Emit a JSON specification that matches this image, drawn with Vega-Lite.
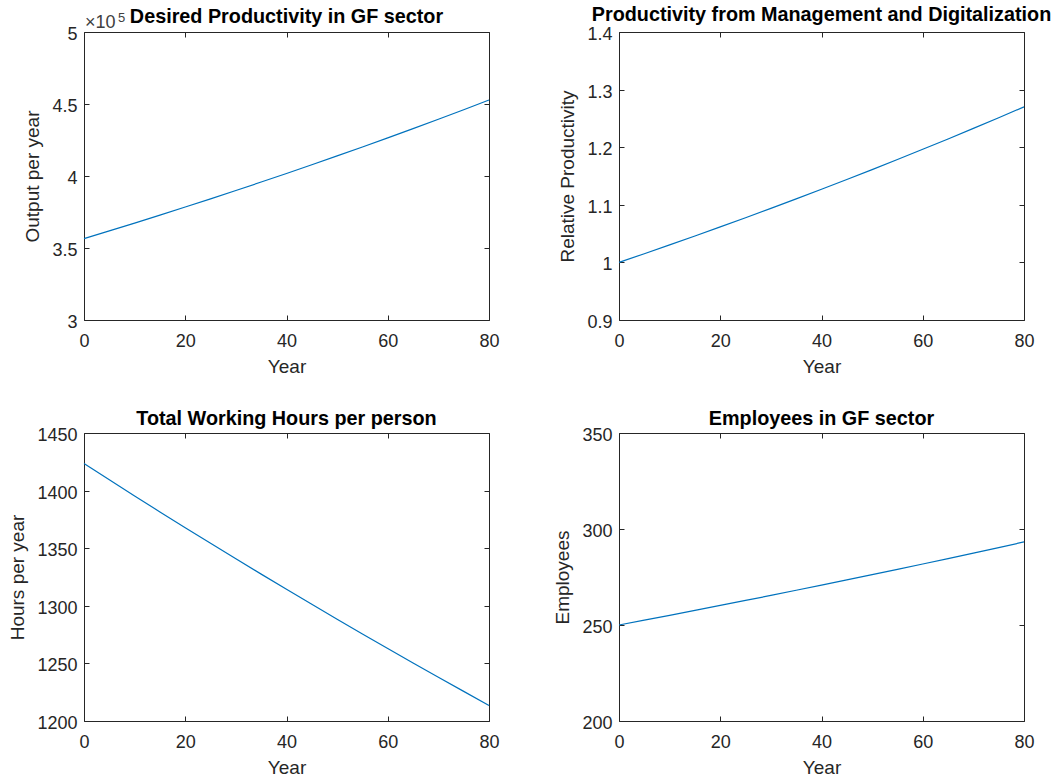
{
  "$schema": "https://vega.github.io/schema/vega-lite/v6.json",
  "background": "white",
  "padding": {"left": 8, "top": 4, "right": 5, "bottom": 5},
  "data": {"values": [
    {"year": 0, "output": 356500, "relprod": 1.0, "hours": 1423.5, "employees": 250.0},
    {"year": 5, "output": 361865, "relprod": 1.01505, "hours": 1409.4, "employees": 252.51},
    {"year": 10, "output": 367313, "relprod": 1.03033, "hours": 1395.4, "employees": 255.04},
    {"year": 15, "output": 372842, "relprod": 1.04584, "hours": 1381.5, "employees": 257.59},
    {"year": 20, "output": 378453, "relprod": 1.06158, "hours": 1367.8, "employees": 260.18},
    {"year": 25, "output": 384150, "relprod": 1.07756, "hours": 1354.3, "employees": 262.78},
    {"year": 30, "output": 389933, "relprod": 1.09378, "hours": 1340.8, "employees": 265.42},
    {"year": 35, "output": 395801, "relprod": 1.11024, "hours": 1327.5, "employees": 268.08},
    {"year": 40, "output": 401758, "relprod": 1.12695, "hours": 1314.3, "employees": 270.77},
    {"year": 45, "output": 407804, "relprod": 1.14391, "hours": 1301.3, "employees": 273.48},
    {"year": 50, "output": 413943, "relprod": 1.16113, "hours": 1288.4, "employees": 276.22},
    {"year": 55, "output": 420171, "relprod": 1.1786, "hours": 1275.6, "employees": 278.99},
    {"year": 60, "output": 426499, "relprod": 1.19635, "hours": 1262.9, "employees": 281.79},
    {"year": 65, "output": 432916, "relprod": 1.21435, "hours": 1250.4, "employees": 284.61},
    {"year": 70, "output": 439436, "relprod": 1.23264, "hours": 1238.0, "employees": 287.46},
    {"year": 75, "output": 446049, "relprod": 1.25119, "hours": 1225.7, "employees": 290.34},
    {"year": 80, "output": 452755, "relprod": 1.27, "hours": 1213.5, "employees": 293.26}
  ]},
  "columns": 2,
  "spacing": {"row": 113, "column": 130},
  "bounds": "flush",
  "concat": [
    {
      "width": 405, "height": 288,
      "title": {"text": "Desired Productivity in GF sector", "offset": -15},
      "layer": [
        {
          "mark": {"type": "line", "color": "#0072BD", "strokeWidth": 1.2},
          "encoding": {
            "x": {"field": "year", "type": "quantitative", "scale": {"domain": [0, 80], "nice": false, "zero": false}, "axis": {"values": [0, 20, 40, 60, 80], "title": "Year"}},
            "y": {"field": "output", "type": "quantitative", "scale": {"domain": [300000, 500000], "nice": false, "zero": false}, "axis": {"values": [300000, 350000, 400000, 450000, 500000], "labelExpr": "format(datum.value / 100000, '~g')", "title": "Output per year"}}
          }
        },
        {
          "mark": {"type": "line", "strokeOpacity": 0},
          "encoding": {
            "x": {"field": "year", "type": "quantitative", "axis": {"orient": "top", "values": [0, 20, 40, 60, 80], "labels": false, "title": null}},
            "y": {"field": "output", "type": "quantitative", "axis": {"orient": "right", "values": [300000, 350000, 400000, 450000, 500000], "labels": false, "title": null}}
          }
        },
        {
          "data": {"values": [{}]},
          "mark": {"type": "text", "text": "×10", "align": "left", "baseline": "alphabetic", "dx": 1, "dy": -4, "fontSize": 18, "color": "#404040"},
          "encoding": {
            "x": {"datum": 0, "type": "quantitative", "axis": null},
            "y": {"datum": 500000, "type": "quantitative", "axis": null}
          }
        },
        {
          "data": {"values": [{}]},
          "mark": {"type": "text", "text": "5", "align": "left", "baseline": "alphabetic", "dx": 34, "dy": -10, "fontSize": 13, "color": "#404040"},
          "encoding": {
            "x": {"datum": 0, "type": "quantitative", "axis": null},
            "y": {"datum": 500000, "type": "quantitative", "axis": null}
          }
        }
      ],
      "resolve": {"axis": {"x": "independent", "y": "independent"}}
    },
    {
      "width": 405, "height": 288,
      "title": {"text": "Productivity from Management and Digitalization", "offset": 1},
      "layer": [
        {
          "mark": {"type": "line", "color": "#0072BD", "strokeWidth": 1.2},
          "encoding": {
            "x": {"field": "year", "type": "quantitative", "scale": {"domain": [0, 80], "nice": false, "zero": false}, "axis": {"values": [0, 20, 40, 60, 80], "title": "Year"}},
            "y": {"field": "relprod", "type": "quantitative", "scale": {"domain": [0.9, 1.4], "nice": false, "zero": false}, "axis": {"values": [0.9, 1, 1.1, 1.2, 1.3, 1.4], "format": "~g", "title": "Relative Productivity"}}
          }
        },
        {
          "mark": {"type": "line", "strokeOpacity": 0},
          "encoding": {
            "x": {"field": "year", "type": "quantitative", "axis": {"orient": "top", "values": [0, 20, 40, 60, 80], "labels": false, "title": null}},
            "y": {"field": "relprod", "type": "quantitative", "axis": {"orient": "right", "values": [0.9, 1, 1.1, 1.2, 1.3, 1.4], "labels": false, "title": null}}
          }
        }
      ],
      "resolve": {"axis": {"x": "independent", "y": "independent"}}
    },
    {
      "width": 405, "height": 288,
      "title": {"text": "Total Working Hours per person", "offset": -2},
      "layer": [
        {
          "mark": {"type": "line", "color": "#0072BD", "strokeWidth": 1.2},
          "encoding": {
            "x": {"field": "year", "type": "quantitative", "scale": {"domain": [0, 80], "nice": false, "zero": false}, "axis": {"values": [0, 20, 40, 60, 80], "title": "Year"}},
            "y": {"field": "hours", "type": "quantitative", "scale": {"domain": [1200, 1450], "nice": false, "zero": false}, "axis": {"values": [1200, 1250, 1300, 1350, 1400, 1450], "format": "d", "title": "Hours per year"}}
          }
        },
        {
          "mark": {"type": "line", "strokeOpacity": 0},
          "encoding": {
            "x": {"field": "year", "type": "quantitative", "axis": {"orient": "top", "values": [0, 20, 40, 60, 80], "labels": false, "title": null}},
            "y": {"field": "hours", "type": "quantitative", "axis": {"orient": "right", "values": [1200, 1250, 1300, 1350, 1400, 1450], "labels": false, "title": null}}
          }
        }
      ],
      "resolve": {"axis": {"x": "independent", "y": "independent"}}
    },
    {
      "width": 405, "height": 288,
      "title": {"text": "Employees in GF sector", "offset": -2},
      "layer": [
        {
          "mark": {"type": "line", "color": "#0072BD", "strokeWidth": 1.2},
          "encoding": {
            "x": {"field": "year", "type": "quantitative", "scale": {"domain": [0, 80], "nice": false, "zero": false}, "axis": {"values": [0, 20, 40, 60, 80], "title": "Year"}},
            "y": {"field": "employees", "type": "quantitative", "scale": {"domain": [200, 350], "nice": false, "zero": false}, "axis": {"values": [200, 250, 300, 350], "format": "d", "title": "Employees"}}
          }
        },
        {
          "mark": {"type": "line", "strokeOpacity": 0},
          "encoding": {
            "x": {"field": "year", "type": "quantitative", "axis": {"orient": "top", "values": [0, 20, 40, 60, 80], "labels": false, "title": null}},
            "y": {"field": "employees", "type": "quantitative", "axis": {"orient": "right", "values": [200, 250, 300, 350], "labels": false, "title": null}}
          }
        }
      ],
      "resolve": {"axis": {"x": "independent", "y": "independent"}}
    }
  ],
  "config": {
    "font": "Liberation Sans",
    "view": {"stroke": "#262626", "strokeWidth": 1},
    "axis": {
      "grid": false, "domain": false, "tickSize": -5, "tickColor": "#262626", "tickWidth": 1,
      "labelFontSize": 18, "labelColor": "#262626", "labelPadding": 12, "labelFlush": false,
      "titleFontSize": 19, "titleFontWeight": "normal", "titleColor": "#262626", "titlePadding": 9,
      "labelFont": "Liberation Sans", "titleFont": "Liberation Sans"
    },
    "axisX": {"labelPadding": 17.5, "titlePadding": 7},
    "axisY": {"labelOffset": 2.5},
    "title": {"fontSize": 19.8, "fontWeight": "bold", "color": "#000000", "anchor": "middle", "frame": "group", "offset": 10, "baseline": "alphabetic", "font": "Liberation Sans"}
  }
}
